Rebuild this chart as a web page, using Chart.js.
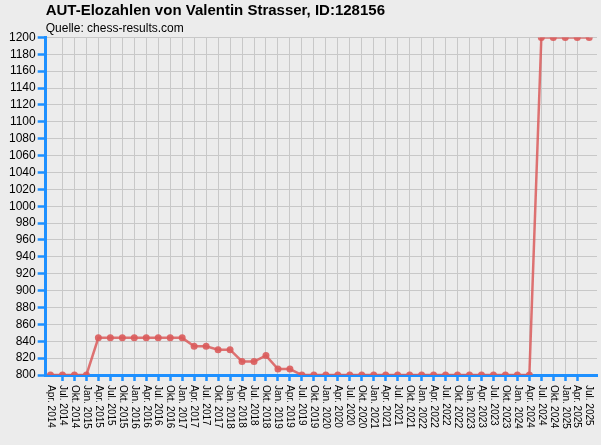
<!DOCTYPE html>
<html>
<head>
<meta charset="utf-8">
<script src="https://cdn.jsdelivr.net/npm/chart.js@4"></script>
<style>
  html, body { margin: 0; padding: 0; background: #ececec; }
  canvas { display: block; }
</style>
</head>
<body>
<canvas id="eloChart" width="601" height="445"></canvas>
<script>
const quarters = [
    'Apr. 2014', 'Jul. 2014', 'Okt. 2014',
    'Jan. 2015', 'Apr. 2015', 'Jul. 2015', 'Okt. 2015',
    'Jan. 2016', 'Apr. 2016', 'Jul. 2016', 'Okt. 2016',
    'Jan. 2017', 'Apr. 2017', 'Jul. 2017', 'Okt. 2017',
    'Jan. 2018', 'Apr. 2018', 'Jul. 2018', 'Okt. 2018',
    'Jan. 2019', 'Apr. 2019', 'Jul. 2019', 'Okt. 2019',
    'Jan. 2020', 'Apr. 2020', 'Jul. 2020', 'Okt. 2020',
    'Jan. 2021', 'Apr. 2021', 'Jul. 2021', 'Okt. 2021',
    'Jan. 2022', 'Apr. 2022', 'Jul. 2022', 'Okt. 2022',
    'Jan. 2023', 'Apr. 2023', 'Jul. 2023', 'Okt. 2023',
    'Jan. 2024', 'Apr. 2024', 'Jul. 2024', 'Okt. 2024',
    'Jan. 2025', 'Apr. 2025', 'Jul. 2025'
];

const elo = [
    800, 800, 800,
    800, 844, 844, 844,
    844, 844, 844, 844,
    844, 834, 834, 830,
    830, 816, 816, 823,
    807, 807, 800, 800,
    800, 800, 800, 800,
    800, 800, 800, 800,
    800, 800, 800, 800,
    800, 800, 800, 800,
    800, 800, 1200, 1200,
    1200, 1200, 1200
];

const yTicks = { min: 800, max: 1200, step: 20 };

const blue = '#1e90ff';
const gridGray = '#c8c8c8';
const font = "'Liberation Sans', Arial, sans-serif";

// x labels read top-to-bottom, Chart.js only rotates the other way
const downLabels = {
    id: 'downLabels',
    afterDraw(chart) {
        const { ctx, chartArea } = chart;
        const xs = chart.scales.x;
        ctx.save();
        ctx.fillStyle = '#000';
        ctx.font = '10px ' + font;
        ctx.textAlign = 'left';
        ctx.textBaseline = 'middle';
        quarters.forEach((q, i) => {
            ctx.save();
            ctx.translate(xs.getPixelForValue(i), chartArea.bottom + 10);
            ctx.rotate(Math.PI / 2);
            ctx.fillText(q, 0, 0);
            ctx.restore();
        });
        ctx.restore();
    }
};

const ctx = document.getElementById('eloChart').getContext('2d');
new Chart(ctx, {
    type: 'line',
    data: {
        datasets: [{
            label: 'Elo',
            data: elo.map((v, i) => ({ x: i, y: v })),
            borderColor: 'rgba(218, 92, 92, 0.85)',
            backgroundColor: 'rgba(218, 92, 92, 0.9)',
            borderWidth: 2.5,
            pointRadius: 3.5,
            pointHoverRadius: 3.5,
            pointBorderWidth: 0,
            tension: 0
        }]
    },
    options: {
        responsive: false,
        animation: false,
        layout: { padding: { left: 7, right: 4, top: 0, bottom: 64 } },
        plugins: {
            legend: { display: false },
            tooltip: { enabled: false },
            title: {
                display: true,
                text: 'AUT-Elozahlen von Valentin Strasser, ID:128156',
                align: 'start',
                fullSize: false,
                color: '#000',
                font: { family: font, size: 15, weight: 'bold' },
                padding: { top: 2, bottom: 0 }
            },
            subtitle: {
                display: true,
                text: 'Quelle: chess-results.com',
                align: 'start',
                fullSize: false,
                color: '#000',
                font: { family: font, size: 12 },
                padding: { top: 1, bottom: 2 }
            }
        },
        scales: {
            x: {
                type: 'linear',
                min: -0.4,
                max: 45.65,
                ticks: { stepSize: 1, display: false },
                afterBuildTicks: s => { s.ticks = s.ticks.filter(t => Number.isInteger(t.value)); },
                grid: {
                    color: gridGray,
                    tickColor: blue,
                    tickWidth: 2.5,
                    tickLength: 6
                },
                border: { color: blue, width: 3 }
            },
            y: {
                min: yTicks.min,
                max: yTicks.max,
                ticks: {
                    stepSize: yTicks.step,
                    autoSkip: false,
                    color: '#000',
                    padding: 2,
                    font: { family: font, size: 12 },
                    callback: v => String(v)
                },
                grid: {
                    color: gridGray,
                    tickColor: blue,
                    tickWidth: 2.5,
                    tickLength: 8
                },
                border: { color: blue, width: 3 }
            }
        }
    },
    plugins: [downLabels]
});
</script>
</body>
</html>
